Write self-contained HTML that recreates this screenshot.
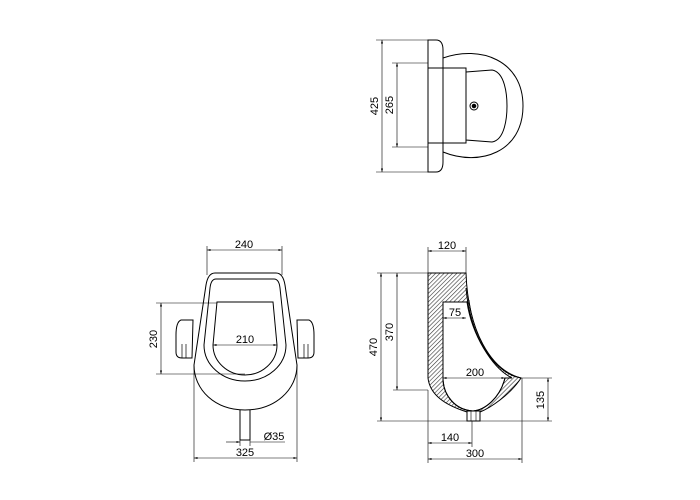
<!DOCTYPE html>
<html><head><meta charset="utf-8"><style>
html,body{margin:0;padding:0;background:#fff;}
svg{display:block;}
text{font-family:"Liberation Sans",sans-serif;font-size:11px;fill:#000;}
</style></head><body>
<svg width="700" height="500" viewBox="0 0 700 500" xmlns="http://www.w3.org/2000/svg">
<defs>
<pattern id="h" width="3" height="3" patternUnits="userSpaceOnUse" patternTransform="rotate(45)">
<rect width="3" height="3" fill="#fff"/><line x1="0" y1="0" x2="0" y2="3" stroke="#333" stroke-width="1.2"/></pattern>
<marker id="a" viewBox="0 0 10 10" refX="10" refY="5" markerWidth="6" markerHeight="6" orient="auto-start-reverse"><path d="M0,2 L10,5 L0,8 z" fill="#000"/></marker>
</defs>
<g stroke="#000" stroke-width="1" fill="none">
<!-- TOP VIEW -->
<path d="M428,40 H436 Q443,40 443,50 V58 C480,45 523,60 523,106 C523,152 480,167 443,152 V162 Q443,172 436,172 H428 Z" fill="#fff"/>
<line x1="443" y1="58" x2="443" y2="152"/>
<rect x="428" y="68" width="38" height="75"/>
<path d="M466,72 L492,70 C505,72 507,95 507,106 C507,117 505,140 492,142 L466,140 Z"/>
<circle cx="474" cy="106" r="4"/><circle cx="474" cy="106" r="1.8" fill="#000"/>
<g stroke-width="0.6">
<line x1="376" y1="40" x2="428" y2="40"/><line x1="376" y1="172" x2="428" y2="172"/>
<line x1="392" y1="63" x2="428" y2="63"/><line x1="392" y1="147" x2="428" y2="147"/>
<line x1="382" y1="40" x2="382" y2="172" marker-start="url(#a)" marker-end="url(#a)"/>
<line x1="397" y1="63" x2="397" y2="147" marker-start="url(#a)" marker-end="url(#a)"/>
</g>
<!-- FRONT VIEW -->
<path d="M181,320 Q176,322 176,335 V352 Q176,358 182,358 H192 L193,320 Z" fill="#fff"/>
<path d="M182,344 V358 M186,344 V358" stroke-width="0.7"/>
<path d="M309,320 Q314,322 314,335 V352 Q314,358 308,358 H298 L297,320 Z" fill="#fff"/>
<path d="M308,344 V358 M304,344 V358" stroke-width="0.7"/>
<rect x="240" y="408" width="10" height="32" fill="#fff"/>
<path d="M215,273 H276 Q283,273 285,285 L297,365 C297,390 275,410 245,410 C215,410 194,390 194,365 L206,285 Q208,273 215,273 Z" fill="#fff"/>
<path d="M216,279 H274 Q279,279 280,288 L286,345 C286,365 268,381 245,381 C222,381 204,365 204,345 L210,288 Q211,279 216,279 Z"/>
<path d="M217,302 H273 L277,345 C277,362 262,375 245,375 C228,375 213,362 213,345 Z"/>
<g stroke-width="0.6">
<line x1="207" y1="246" x2="207" y2="275"/><line x1="282" y1="246" x2="282" y2="275"/>
<line x1="207" y1="250" x2="282" y2="250" marker-start="url(#a)" marker-end="url(#a)"/>
<line x1="213" y1="345" x2="277" y2="345" marker-start="url(#a)" marker-end="url(#a)"/>
<line x1="156" y1="303" x2="217" y2="303"/><line x1="156" y1="374" x2="245" y2="374"/>
<line x1="161" y1="303" x2="161" y2="374" marker-start="url(#a)" marker-end="url(#a)"/>
<line x1="194" y1="365" x2="194" y2="462"/><line x1="297" y1="365" x2="297" y2="462"/>
<line x1="194" y1="458" x2="297" y2="458" marker-start="url(#a)" marker-end="url(#a)"/>
<line x1="226" y1="442" x2="240" y2="442" marker-end="url(#a)"/>
<line x1="250" y1="442" x2="285" y2="442"/>
<line x1="240" y1="440" x2="240" y2="446"/><line x1="250" y1="440" x2="250" y2="446"/>
</g>
<!-- SIDE VIEW -->
<path fill="url(#h)" fill-rule="evenodd" d="M428,273 H466 C468,330 490,370 521,378 C510,395 490,408 480,412 H467 C445,405 430,395 428,378 Z M443,302 H467 C472,335 492,368 512,378 L505,378 C500,398 485,410 473,411 C455,410 443,395 443,378 Z"/>
<path d="M466,288 C470,335 492,372 521,378"/>
<path d="M469,300 C474,338 494,370 516,377" stroke-width="0.7"/>
<path d="M443,302 H467 M443,302 V378 C443,395 455,410 473,411 C485,410 500,398 505,378" fill="none"/>
<rect x="467" y="411" width="13" height="10" fill="#fff"/>
<path d="M471,411 V421 M476,411 V421" stroke-width="0.6"/>
<g stroke-width="0.6">
<line x1="428" y1="247" x2="428" y2="273"/><line x1="466" y1="247" x2="466" y2="273"/>
<line x1="428" y1="251" x2="466" y2="251" marker-start="url(#a)" marker-end="url(#a)"/>
<line x1="443" y1="318" x2="466" y2="318" marker-start="url(#a)" marker-end="url(#a)"/>
<line x1="443" y1="378" x2="505" y2="378" marker-start="url(#a)" marker-end="url(#a)"/>
<line x1="377" y1="273" x2="428" y2="273"/><line x1="377" y1="421" x2="552" y2="421"/>
<line x1="381" y1="273" x2="381" y2="421" marker-start="url(#a)" marker-end="url(#a)"/>
<line x1="393" y1="390" x2="428" y2="390"/>
<line x1="397" y1="273" x2="397" y2="390" marker-start="url(#a)" marker-end="url(#a)"/>
<line x1="521" y1="378" x2="552" y2="378"/>
<line x1="548" y1="378" x2="548" y2="421" marker-start="url(#a)" marker-end="url(#a)"/>
<line x1="428" y1="390" x2="428" y2="463"/><line x1="472" y1="421" x2="472" y2="447"/><line x1="522" y1="378" x2="522" y2="463"/>
<line x1="428" y1="443" x2="472" y2="443" marker-start="url(#a)" marker-end="url(#a)"/>
<line x1="428" y1="459" x2="522" y2="459" marker-start="url(#a)" marker-end="url(#a)"/>
</g>
</g>
<!-- labels -->
<text x="378" y="106" text-anchor="middle" transform="rotate(-90 378 106)">425</text>
<text x="393" y="105" text-anchor="middle" transform="rotate(-90 393 105)">265</text>
<text x="244" y="248" text-anchor="middle">240</text>
<text x="245" y="343" text-anchor="middle">210</text>
<text x="157" y="339" text-anchor="middle" transform="rotate(-90 157 339)">230</text>
<text x="274" y="440" text-anchor="middle">Ø35</text>
<text x="245" y="456" text-anchor="middle">325</text>
<text x="447" y="249" text-anchor="middle">120</text>
<text x="455" y="316" text-anchor="middle">75</text>
<text x="475" y="376" text-anchor="middle">200</text>
<text x="377" y="347" text-anchor="middle" transform="rotate(-90 377 347)">470</text>
<text x="393" y="332" text-anchor="middle" transform="rotate(-90 393 332)">370</text>
<text x="544" y="400" text-anchor="middle" transform="rotate(-90 544 400)">135</text>
<text x="450" y="441" text-anchor="middle">140</text>
<text x="475" y="457" text-anchor="middle">300</text>
</svg>
</body></html>
